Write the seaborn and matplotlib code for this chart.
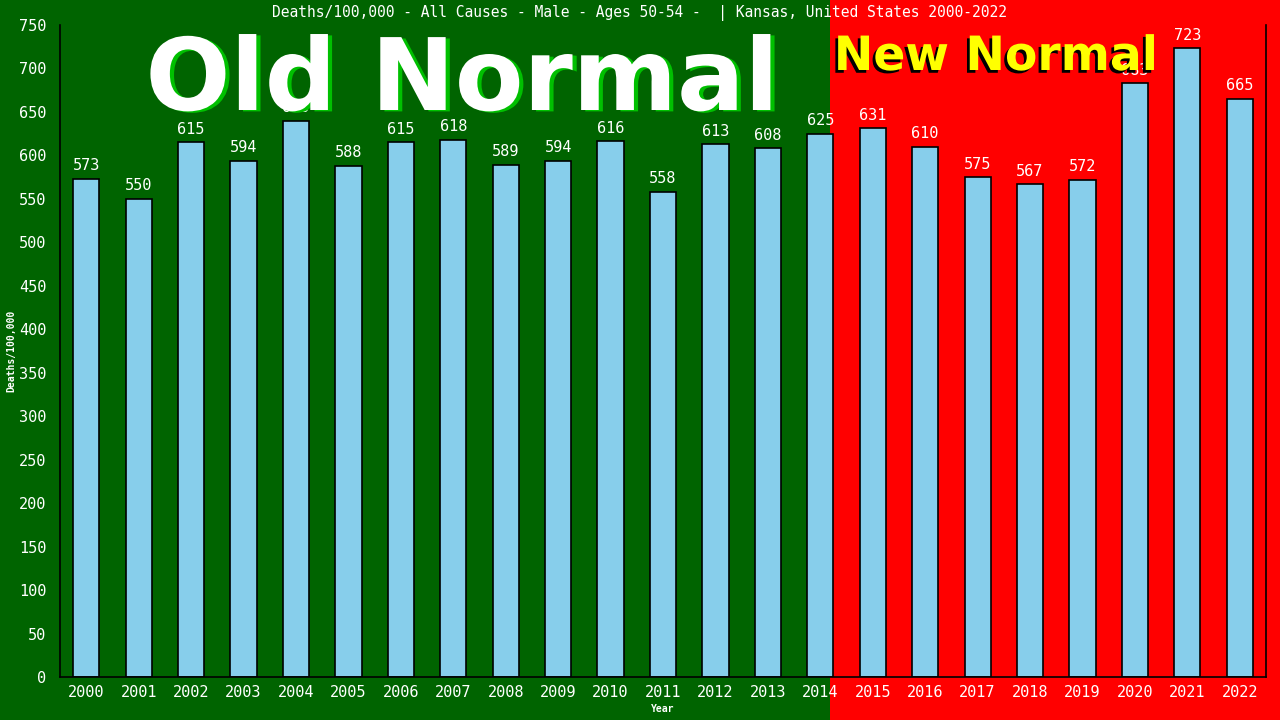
import matplotlib
matplotlib.use("Agg")
import matplotlib.pyplot as plt
import matplotlib.patheffects as pe
from matplotlib.patches import Rectangle
import seaborn as sns

years = [str(y) for y in range(2000, 2023)]
deaths = [573, 550, 615, 594, 640, 588, 615, 618, 589, 594, 616, 558,
          613, 608, 625, 631, 610, 575, 567, 572, 683, 723, 665]
yticks = list(range(0, 751, 50))

title = "Deaths/100,000 - All Causes - Male - Ages 50-54 -  | Kansas, United States 2000-2022"

sns.set_style("white")
plt.rcParams['font.family'] = ['DejaVu Sans Mono', 'DejaVu Sans']

W, H = 1280, 720
fig = plt.figure(figsize=(12.8, 7.2), dpi=100)
fig.patch.set_facecolor('#006400')
# red "new normal" half of the background
fig.add_artist(Rectangle((830 / W, 0), 1 - 830 / W, 1, transform=fig.transFigure,
                         facecolor='#ff0000', edgecolor='none', zorder=-1))

ax = fig.add_axes([60 / W, 43 / H, 1206 / W, 652 / H])
ax.set_facecolor('none')

sns.barplot(x=years, y=deaths, color='#87ceeb', edgecolor='black', linewidth=1.2,
            width=0.5, saturation=1, ax=ax)

for c in ax.containers:
    ax.bar_label(c, labels=[str(v) for v in deaths], padding=4, color='white', fontsize=11)

ax.set_xlim(-0.5, len(years) - 0.5)
ax.set_ylim(0, 750)
ax.set_yticks(yticks)
ax.tick_params(axis='both', colors='white', labelsize=11)
ax.tick_params(axis='y', direction='inout', length=8, color='black', width=1, pad=6)
ax.tick_params(axis='x', length=0, pad=6)
for s in ['left', 'bottom', 'right']:
    ax.spines[s].set_color('black')
    ax.spines[s].set_linewidth(1.2)
ax.spines['top'].set_visible(False)

ax.set_xlabel("Year", color='white', fontsize=7, fontweight='bold')
ax.set_ylabel("Deaths/100,000", color='white', fontsize=7, fontweight='bold')
ax.yaxis.set_label_coords(-0.036, 0.5)
ax.xaxis.set_label_coords(0.5, -0.042)

fig.text(0.5, 1 - 13 / H, title, color='white', fontsize=10.5, ha='center', va='center')

fig.text(462 / W, 1 - 110 / H, "Old Normal", color='white', fontsize=72,
         fontweight='bold', family='DejaVu Sans', ha='center', va='baseline', zorder=10,
         path_effects=[pe.withSimplePatchShadow(offset=(3, -1), shadow_rgbFace='#00c000', alpha=1)])
fig.text(996 / W, 1 - 70 / H, "New Normal", color='#ffff00', fontsize=34,
         fontweight='bold', family='DejaVu Sans', ha='center', va='baseline', zorder=10,
         path_effects=[pe.withSimplePatchShadow(offset=(-2, -2), shadow_rgbFace='black', alpha=1)])

fig.savefig("out.png", dpi=100, facecolor=fig.get_facecolor())
